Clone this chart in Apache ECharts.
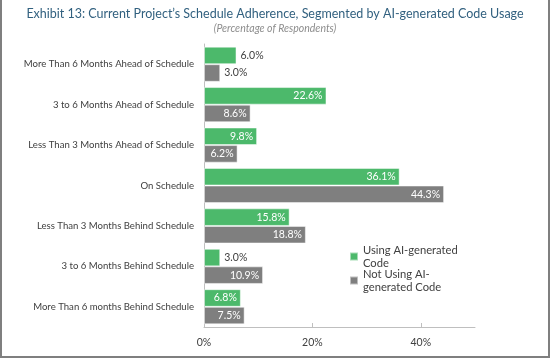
<!DOCTYPE html>
<html><head><meta charset="utf-8">
<script src="https://cdn.jsdelivr.net/npm/echarts@6/dist/echarts.min.js"></script>
<style>html,body{margin:0;padding:0;background:#fff}#c{width:550px;height:358px}</style>
</head><body><div id="c"></div>
<script>
var categories = [
  "More Than 6 Months Ahead of Schedule",
  "3 to 6 Months Ahead of Schedule",
  "Less Than 3 Months Ahead of Schedule",
  "On Schedule",
  "Less Than 3 Months Behind Schedule",
  "3 to 6 Months Behind Schedule",
  "More Than 6 months Behind Schedule"
];
var usingAI = [6.0, 22.6, 9.8, 36.1, 15.8, 3.0, 6.8];
var notUsingAI = [3.0, 8.6, 6.2, 44.3, 18.8, 10.9, 7.5];
var seriesNames = ["Using AI-generated Code", "Not Using AI-generated Code"];
var legendLabels = ["Using AI-generated\nCode", "Not Using AI-\ngenerated Code"];
var tickValues = [0, 20, 40];

var FONT = "Lato";
function mkData(arr) {
  return arr.map(function (v) {
    var outside = v <= 6.0;
    return {
      value: v,
      label: outside
        ? { position: "right", color: "#404040", distance: 4 }
        : { position: "insideRight", color: "#ffffff", distance: 4 }
    };
  });
}
var chart = echarts.init(document.getElementById("c"));
chart.setOption({
  animation: false,
  textStyle: { fontFamily: FONT },
  title: {
    text: "Exhibit 13: Current Project\u2019s Schedule Adherence, Segmented by AI-generated Code Usage",
    subtext: "(Percentage of Respondents)",
    left: "center", top: 2, itemGap: 3,
    textStyle: { fontFamily: FONT, fontSize: 12.5, fontWeight: "normal", color: "#31607f" },
    subtextStyle: { fontFamily: FONT, fontSize: 10.5, fontStyle: "italic", color: "#8c8c8c" }
  },
  legend: {
    orient: "vertical", left: 344, top: 232,
    itemWidth: 8, itemHeight: 8, itemGap: -15,
    icon: "rect",
    textStyle: { fontFamily: FONT, fontSize: 11.2, color: "#404040", lineHeight: 13, padding: [13, 0, 0, 0] },
    formatter: function (n) { return legendLabels[seriesNames.indexOf(n)]; },
    data: seriesNames
  },
  grid: { left: 204, right: 75, top: 44, bottom: 31, containLabel: false, outerBoundsMode: "none" },
  xAxis: {
    type: "value", min: 0, max: 50,
    axisLine: { show: true, lineStyle: { color: "#bfbfbf" } },
    axisTick: { show: true, inside: true, length: 4, customValues: tickValues, lineStyle: { color: "#bfbfbf" } },
    axisLabel: { customValues: tickValues, formatter: "{value}%", color: "#404040", fontSize: 10.5, margin: 10 },
    splitLine: { show: false }
  },
  yAxis: {
    type: "category", inverse: true, data: categories,
    axisLine: { show: true, lineStyle: { color: "#bfbfbf" } },
    axisTick: { show: false },
    axisLabel: { color: "#404040", fontSize: 9.6, margin: 10 }
  },
  series: [
    { name: seriesNames[0], type: "bar", data: mkData(usingAI), barGap: "0%", barCategoryGap: "13%",
      itemStyle: { color: "#4cb96b", borderColor: "rgba(255,255,255,0.5)", borderWidth: 1 },
      label: { show: true, fontSize: 10.5, formatter: function (p) { return p.value.toFixed(1) + "%"; } } },
    { name: seriesNames[1], type: "bar", data: mkData(notUsingAI),
      itemStyle: { color: "#7f7f7f", borderColor: "rgba(255,255,255,0.5)", borderWidth: 1 },
      label: { show: true, fontSize: 10.5, formatter: function (p) { return p.value.toFixed(1) + "%"; } } }
  ],
  graphic: [{
    type: "polyline", silent: true,
    shape: { points: [[1, 0], [1, 357], [549, 357], [549, 0]] },
    style: { stroke: "#7f7f7f", lineWidth: 2, fill: null }
  }]
});
</script></body></html>
